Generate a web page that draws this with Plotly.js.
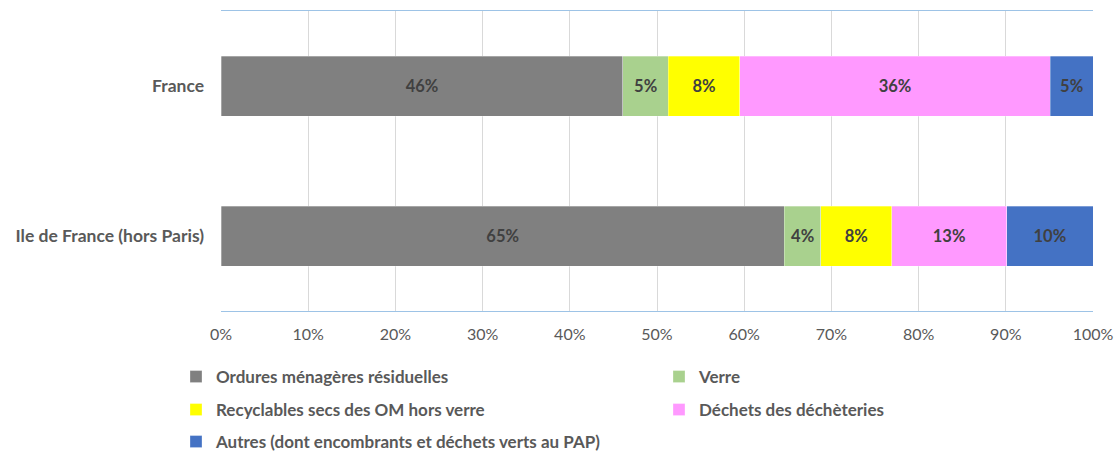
<!DOCTYPE html>
<html><head><meta charset="utf-8">
<script src="https://cdn.plot.ly/plotly-3.0.1.min.js"></script>
<style>body{margin:0;background:#fff}#c{width:1118px;height:454px}</style>
</head><body><div id="c"></div>
<script>
const categories = ["France", "Ile de France (hors Paris)"];
const seriesNames = ["Ordures ménagères résiduelles", "Verre", "Recyclables secs des OM hors verre", "Déchets des déchèteries", "Autres (dont encombrants et déchets verts au PAP)"];
const omr = [46.1, 64.6];
const verre = [5.2, 4.2];
const recyclables = [8.2, 8.1];
const decheteries = [35.6, 13.2];
const autres = [4.9, 9.9];
const colors = ["#808080", "#A9D18E", "#FFFF00", "#FF99FF", "#4472C4"];
const values = [omr, verre, recyclables, decheteries, autres];
const legendIds = ["legend", "legend2", "legend3", "legend4", "legend5"];

const FONT = "Lato, 'Open Sans', sans-serif";
const traces = values.map((v, i) => ({
  type: "bar", orientation: "h", name: seriesNames[i],
  y: categories, x: v,
  marker: {color: colors[i], line: {color: "rgba(255,255,255,0.6)", width: 0.5}},
  texttemplate: "<b>%{x:.0f}%</b>", textposition: "inside", insidetextanchor: "middle",
  textfont: {family: FONT, size: 16.5, color: "#404040"},
  constraintext: "none",
  legend: legendIds[i], hoverinfo: "x+name"
}));

const colX = [176 / 1118, 659 / 1118];
const rowY = [1 - 377 / 454, 1 - 410 / 454, 1 - 442 / 454];
function leg(col, row) {
  return {orientation: "h", xref: "container", yref: "container", x: colX[col], y: rowY[row],
    xanchor: "left", yanchor: "middle", traceorder: "normal",
    font: {family: FONT, size: 17, color: "#595959", weight: "bold"}, itemwidth: 30, bgcolor: "rgba(0,0,0,0)"};
}
const layout = {
  width: 1118, height: 454,
  margin: {l: 221, r: 25, t: 11, b: 143, autoexpand: false},
  barmode: "stack", bargap: 0.6,
  showlegend: true,
  paper_bgcolor: "#fff", plot_bgcolor: "#fff",
  xaxis: {range: [0, 100], dtick: 10, ticksuffix: "%", showgrid: true, gridcolor: "#D9D9D9", gridwidth: 1,
    zeroline: false, showline: true, mirror: true, linecolor: "#9DC3E6", linewidth: 1,
    tickfont: {family: FONT, size: 16, color: "#595959"}, ticklabelstandoff: 9, fixedrange: true},
  yaxis: {autorange: "reversed", showgrid: false, zeroline: false, showline: false,
    tickfont: {family: FONT, size: 17.5, color: "#595959", weight: "bold"}, ticklabelstandoff: 16},
  legend: leg(0, 0),
  legend2: leg(1, 0),
  legend3: leg(0, 1),
  legend4: leg(1, 1),
  legend5: leg(0, 2),
  font: {family: FONT}
};
Plotly.newPlot("c", traces, layout, {displayModeBar: false, staticPlot: true});
</script></body></html>
